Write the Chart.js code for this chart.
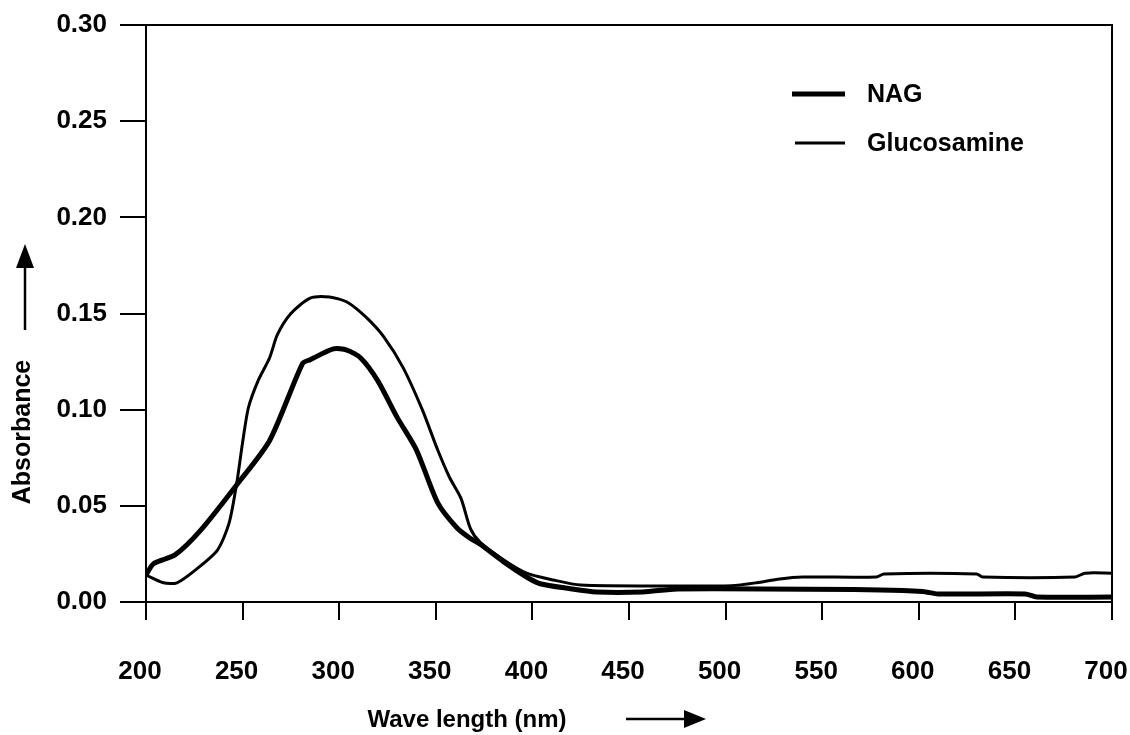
<!DOCTYPE html>
<html>
<head>
<meta charset="utf-8">
<script src="https://cdn.jsdelivr.net/npm/chart.js@4"></script>
<style>
  html, body { margin: 0; padding: 0; background: #fff; }
  #wrap { position: relative; width: 1130px; height: 735px; }
</style>
</head>
<body>
<div id="wrap"><canvas id="chart" width="1130" height="735"></canvas></div>
<script>
var xTicks = [200, 250, 300, 350, 400, 450, 500, 550, 600, 650, 700];
var yTicks = [0.00, 0.05, 0.10, 0.15, 0.20, 0.25, 0.30];

var nagWave = [200, 204, 215, 228, 247, 264, 281, 285, 297, 304, 311, 320, 330, 340, 351, 361, 368, 373, 385, 397, 404, 419, 433, 457, 475, 580, 602, 610, 655, 661, 700];
var nagAbs = [0.014, 0.020, 0.0245, 0.037, 0.061, 0.084, 0.124, 0.126, 0.1316, 0.131, 0.127, 0.115, 0.096, 0.079, 0.0515, 0.0385, 0.033, 0.030, 0.021, 0.013, 0.0095, 0.007, 0.0052, 0.0052, 0.0068, 0.0063, 0.0055, 0.0042, 0.0042, 0.0026, 0.0026];

var glucWave = [200, 209, 216, 226, 237, 243, 247, 250, 253, 258, 264, 268, 275, 285, 295, 304, 314, 323, 333, 343, 351, 357, 363, 368, 373, 385, 397, 411, 425, 470, 503, 516, 528, 540, 578, 582, 630, 633, 681, 686, 700];
var glucAbs = [0.014, 0.010, 0.010, 0.017, 0.027, 0.041, 0.062, 0.083, 0.101, 0.115, 0.127, 0.139, 0.150, 0.158, 0.1586, 0.156, 0.148, 0.138, 0.122, 0.100, 0.079, 0.065, 0.054, 0.038, 0.031, 0.022, 0.015, 0.0114, 0.0088, 0.0083, 0.0085, 0.010, 0.012, 0.013, 0.013, 0.0146, 0.0146, 0.013, 0.013, 0.015, 0.015];

var FONT = '"Liberation Sans", Arial, sans-serif';

function toPoints(xs, ys) {
  return xs.map(function (x, i) { return { x: x, y: ys[i] }; });
}

// frame, legend, axis titles and arrows
var decor = {
  id: 'decor',
  afterDraw: function (chart) {
    var ctx = chart.ctx, a = chart.chartArea;
    ctx.save();
    ctx.strokeStyle = '#000';
    ctx.fillStyle = '#000';
    ctx.lineWidth = 2;
    ctx.strokeRect(a.left, a.top, a.right - a.left, a.bottom - a.top);

    // legend
    var items = chart.data.datasets;
    var ly = [94, 143];
    ctx.font = 'bold 25px ' + FONT;
    ctx.textBaseline = 'middle';
    items.forEach(function (ds, i) {
      ctx.lineWidth = ds.borderWidth;
      ctx.beginPath();
      ctx.moveTo(i === 0 ? 792 : 795, ly[i]);
      ctx.lineTo(845, ly[i]);
      ctx.stroke();
      ctx.fillText(ds.label, 867, ly[i] + 1);
    });

    // x title + arrow
    ctx.font = 'bold 24px ' + FONT;
    ctx.textAlign = 'center';
    ctx.fillText('Wave length (nm)', 467, 720);
    ctx.lineWidth = 2.5;
    ctx.beginPath();
    ctx.moveTo(626, 719);
    ctx.lineTo(688, 719);
    ctx.stroke();
    ctx.beginPath();
    ctx.moveTo(706, 719);
    ctx.lineTo(684, 710);
    ctx.lineTo(684, 728);
    ctx.closePath();
    ctx.fill();

    // y title + arrow
    ctx.font = 'bold 25px ' + FONT;
    ctx.save();
    ctx.translate(23, 432);
    ctx.rotate(-Math.PI / 2);
    ctx.fillText('Absorbance', 0, 0);
    ctx.restore();
    ctx.beginPath();
    ctx.moveTo(25, 330);
    ctx.lineTo(25, 262);
    ctx.stroke();
    ctx.beginPath();
    ctx.moveTo(25, 244);
    ctx.lineTo(16, 268);
    ctx.lineTo(34, 268);
    ctx.closePath();
    ctx.fill();
    ctx.restore();
  }
};

new Chart(document.getElementById('chart').getContext('2d'), {
  type: 'line',
  data: {
    datasets: [
      { label: 'NAG', data: toPoints(nagWave, nagAbs), borderColor: '#000', borderWidth: 5, pointRadius: 0, tension: 0.25, fill: false },
      { label: 'Glucosamine', data: toPoints(glucWave, glucAbs), borderColor: '#000', borderWidth: 3, pointRadius: 0, tension: 0.25, fill: false }
    ]
  },
  options: {
    responsive: false,
    animation: false,
    layout: { padding: { left: 0, top: 25, right: 18, bottom: 0 } },
    plugins: { legend: { display: false }, tooltip: { enabled: false } },
    scales: {
      x: {
        type: 'linear', min: 200, max: 700,
        afterBuildTicks: function (s) { s.ticks = xTicks.map(function (v) { return { value: v }; }); },
        afterFit: function (s) { s.paddingLeft = 0; s.paddingRight = 0; s.height = 133; },
        border: { display: true, color: '#000', width: 2 },
        grid: { drawOnChartArea: false, color: '#000', lineWidth: 2, tickLength: 18 },
        ticks: { color: '#000', font: { family: FONT, size: 26, weight: 'bold' }, padding: 36, labelOffset: -6, maxRotation: 0 }
      },
      y: {
        min: 0, max: 0.30,
        afterBuildTicks: function (s) { s.ticks = yTicks.map(function (v) { return { value: v }; }); },
        afterFit: function (s) { s.width = 146; s.paddingTop = 0; s.paddingBottom = 0; },
        border: { display: true, color: '#000', width: 2 },
        grid: { drawOnChartArea: false, color: '#000', lineWidth: 2, tickLength: 26 },
        ticks: { color: '#000', font: { family: FONT, size: 26, weight: 'bold' }, padding: 13,
          callback: function (v) { return v.toFixed(2); } }
      }
    }
  },
  plugins: [decor]
});
</script>
</body>
</html>
